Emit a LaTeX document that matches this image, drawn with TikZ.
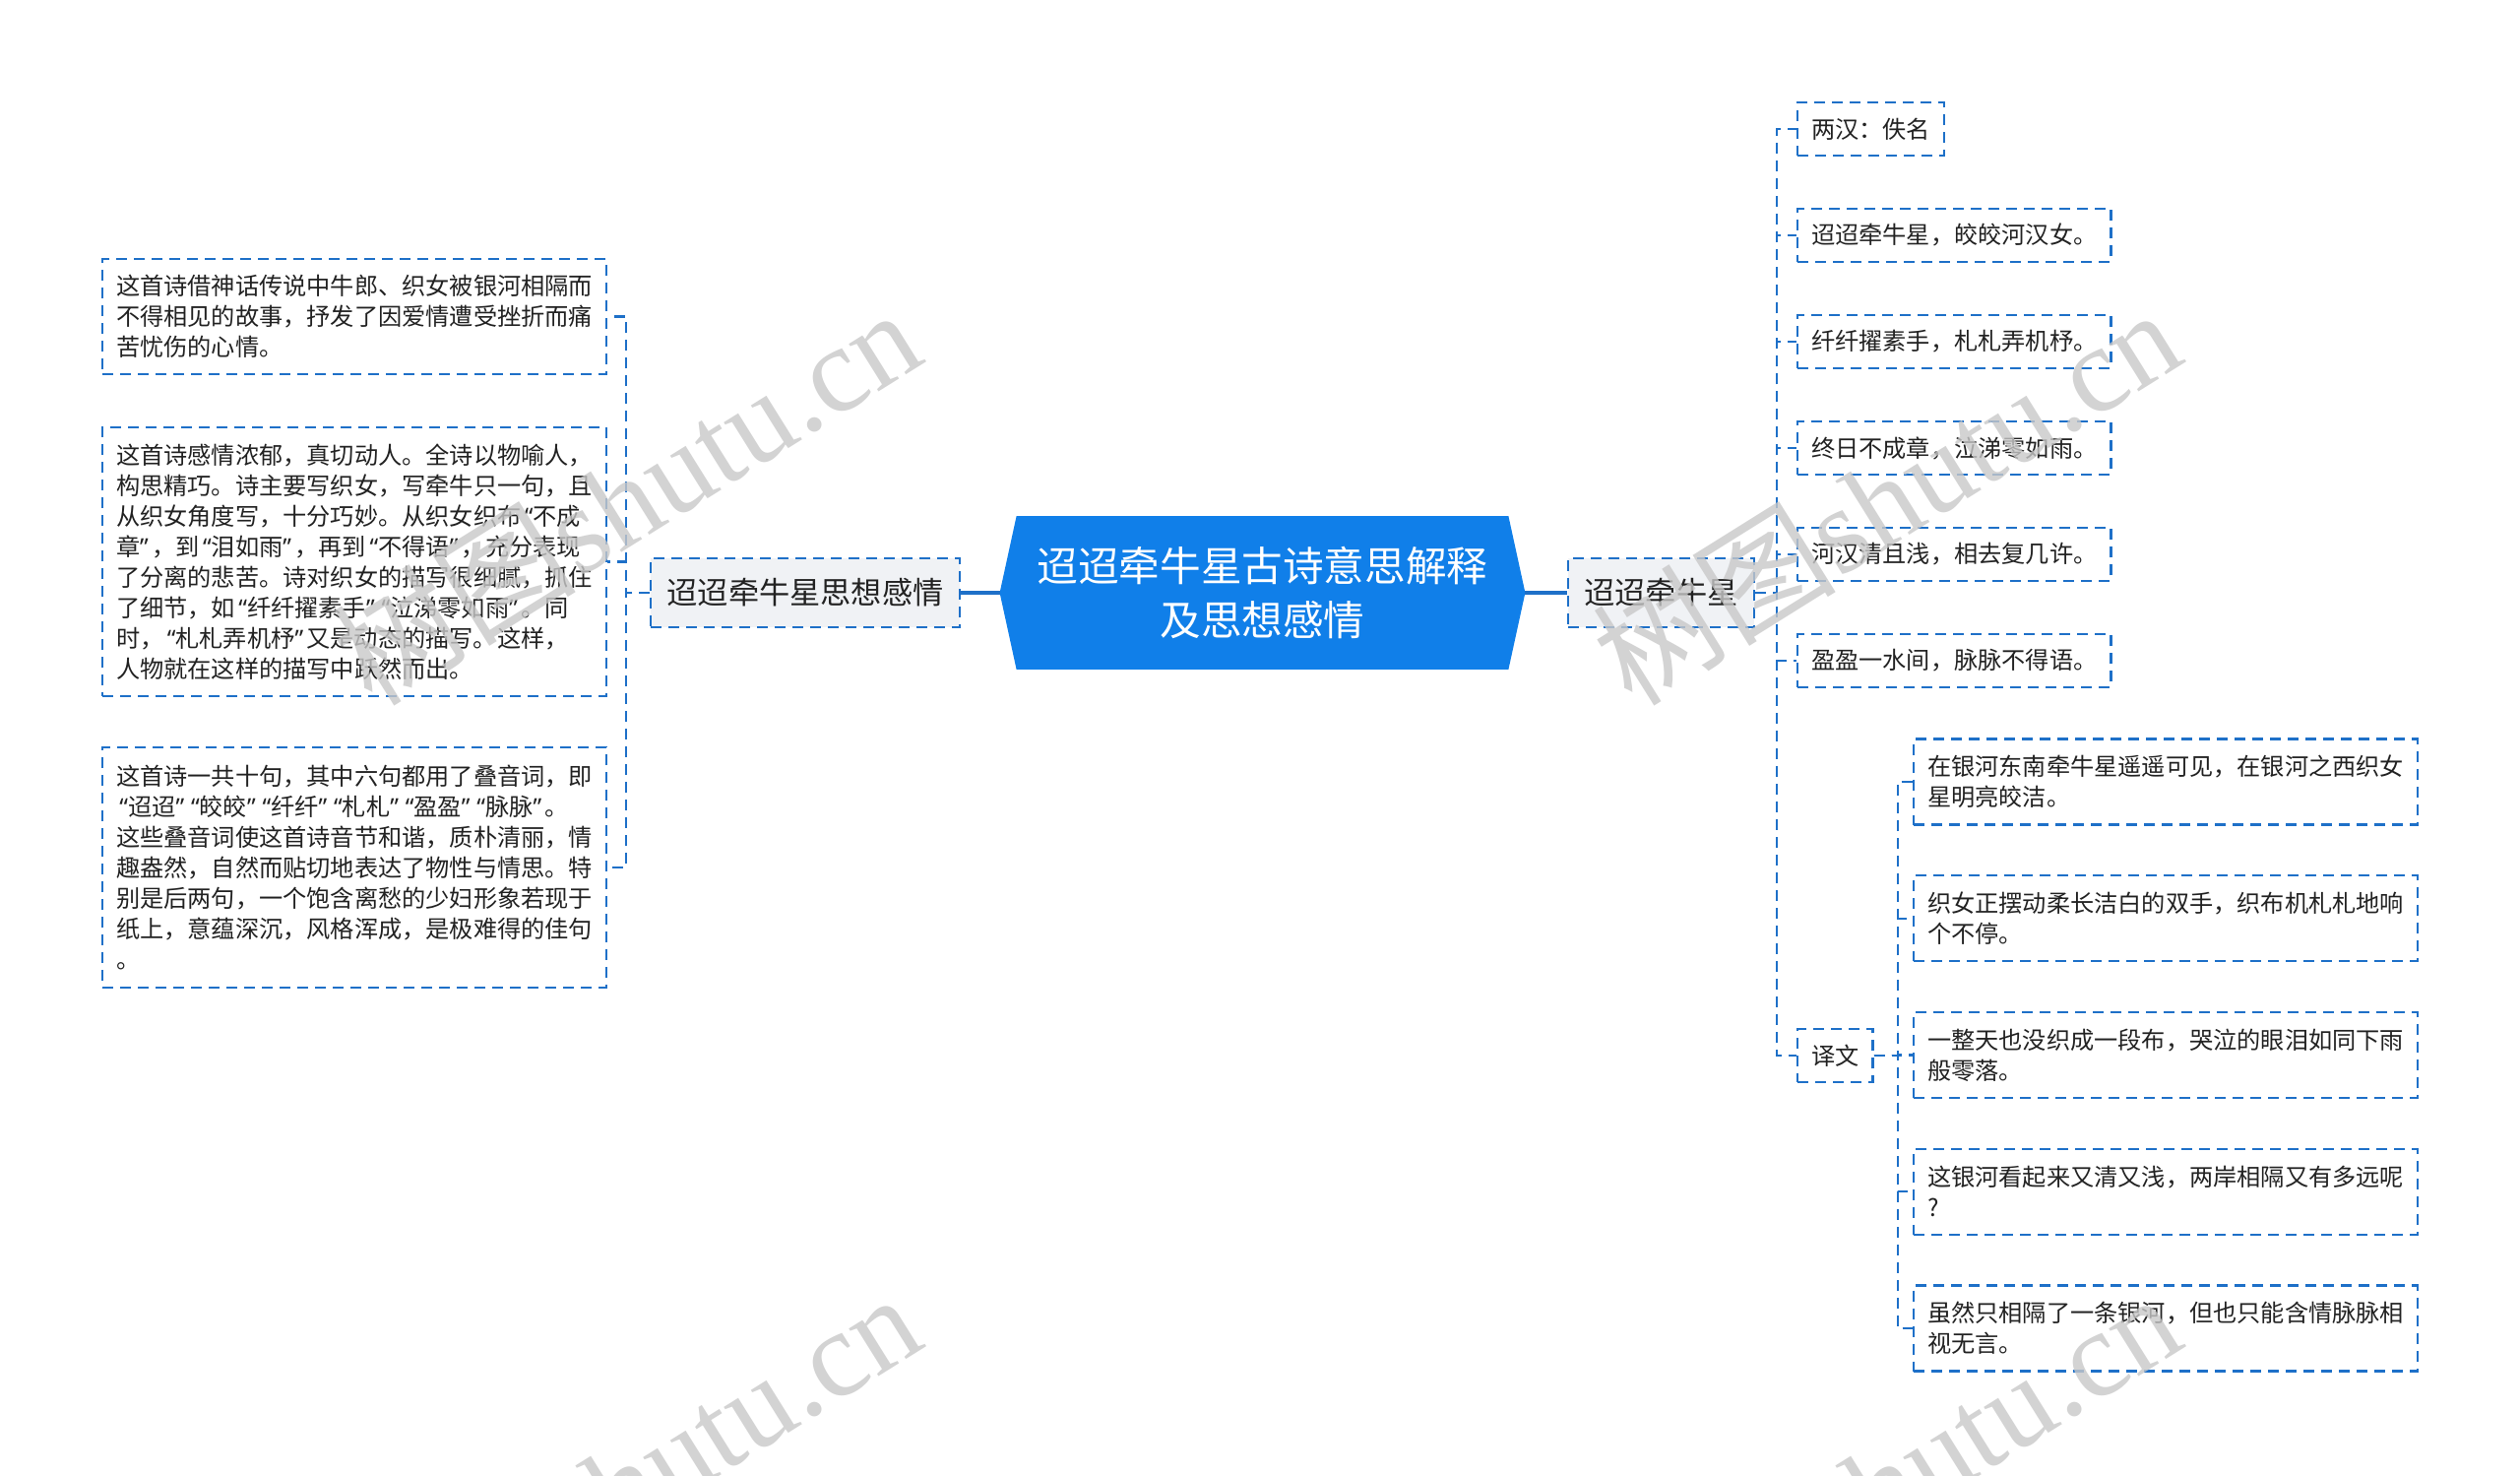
\documentclass[tikz,border=0pt]{standalone}
\usepackage{fontspec}
\setmainfont{Noto Sans CJK SC}
\newfontfamily\wmlatin{Liberation Serif}
\newfontfamily\qfont{Noto Sans}
\newcommand{\myoq}{\makebox[0.5em][r]{\qfont “}}
\newcommand{\mycq}{\makebox[0.5em][l]{\qfont ”}}
\usetikzlibrary{calc}
\definecolor{rootblue}{RGB}{16,127,233}
\definecolor{linkblue}{RGB}{30,112,200}
\definecolor{lvlfill}{RGB}{240,242,245}
\definecolor{txt}{RGB}{34,34,34}
\definecolor{wmgray}{RGB}{200,200,200}
\tikzset{
  dashbox/.style={draw=linkblue, line width=1.1pt, dash pattern=on 5.5pt off 3.5pt, fill=white, text=txt, inner xsep=7pt, inner ysep=0pt, font=\fontsize{12.1}{15.5}\selectfont},
  para/.style={dashbox, text width=242pt, align=left, anchor=center},
  leaf/.style={dashbox, anchor=west, minimum height=27pt},
  trans/.style={dashbox, text width=242pt, align=left, anchor=west, minimum height=43.5pt},
  topic/.style={draw=linkblue, line width=1.1pt, dash pattern=on 5.5pt off 3.5pt, fill=lvlfill, text=txt, font=\fontsize{15.6}{18}\selectfont, minimum height=35pt, inner xsep=8.25pt, inner ysep=0pt},
  conn/.style={draw=linkblue, line width=1.1pt, dash pattern=on 5.5pt off 3.5pt},
  rootlink/.style={draw=linkblue, line width=1.6pt},
  rootbox/.style={minimum width=266.5pt, minimum height=77.5pt, inner sep=0pt},
  roottext/.style={text=white, align=center, font=\fontsize{20.8}{27.5}\selectfont, inner sep=0pt},
  wm/.style={text=wmgray, opacity=0.8, rotate=32, inner sep=0pt, font=\fontsize{62}{62}\selectfont}
}
\begin{document}
\begin{tikzpicture}[x=0.5pt,y=-0.5pt]
\fill[white] (0,0) rectangle (2560,1499);
\useasboundingbox (0,0) rectangle (2560,1499);

% root
\path node[rootbox] (root) at (1282.5,602) {};
\fill[rootblue] (root.west) -- ($(root.north west)+(17,0)$) -- ($(root.north east)+(-17,0)$) -- (root.east) -- ($(root.south east)+(-17,0)$) -- ($(root.south west)+(17,0)$) -- cycle;
\node[roottext] (roottext) at (root.center) {迢迢牵牛星古诗意思解释\\及思想感情};

% level 1
\node[topic] (L) at (818,602) {迢迢牵牛星思想感情};
\node[topic] (R) at (1687.5,602) {迢迢牵牛星};

% left children
\node[para, minimum height=58.5pt] (A) at (360,321.5) {这首诗借神话传说中牛郎、织女被银河相隔而\\不得相见的故事，抒发了因爱情遭受挫折而痛\\苦忧伤的心情。};
\node[para, minimum height=136.5pt] (B) at (360,570.5) {这首诗感情浓郁，真切动人。全诗以物喻人，\\构思精巧。诗主要写织女，写牵牛只一句，且\\从织女角度写，十分巧妙。从织女织布\myoq 不成\\章\mycq ，到\myoq 泪如雨\mycq ，再到\myoq 不得语\mycq ，充分表现\\了分离的悲苦。诗对织女的描写很细腻，抓住\\了细节，如\myoq 纤纤擢素手\mycq\myoq 泣涕零如雨\mycq 。同\\时，\myoq 札札弄机杼\mycq 又是动态的描写。这样，\\人物就在这样的描写中跃然而出。};
\node[para, minimum height=122pt] (C) at (360,881) {这首诗一共十句，其中六句都用了叠音词，即\\\myoq 迢迢\mycq\myoq 皎皎\mycq\myoq 纤纤\mycq\myoq 札札\mycq\myoq 盈盈\mycq\myoq 脉脉\mycq 。\\这些叠音词使这首诗音节和谐，质朴清丽，情\\趣盎然，自然而贴切地表达了物性与情思。特\\别是后两句，一个饱含离愁的少妇形象若现于\\纸上，意蕴深沉，风格浑成，是极难得的佳句\\。};

% right children
\node[leaf] (R1) at (1825,131) {两汉：佚名};
\node[leaf] (R2) at (1825,239) {迢迢牵牛星，皎皎河汉女。};
\node[leaf] (R3) at (1825,347) {纤纤擢素手，札札弄机杼。};
\node[leaf] (R4) at (1825,455) {终日不成章，泣涕零如雨。};
\node[leaf] (R5) at (1825,563) {河汉清且浅，相去复几许。};
\node[leaf] (R6) at (1825,671) {盈盈一水间，脉脉不得语。};
\node[leaf] (R7) at (1825,1072) {译文};

% translations
\node[trans] (T1) at (1943,794) {在银河东南牵牛星遥遥可见，在银河之西织女\\星明亮皎洁。};
\node[trans] (T2) at (1943,932.75) {织女正摆动柔长洁白的双手，织布机札札地响\\个不停。};
\node[trans] (T3) at (1943,1071.5) {一整天也没织成一段布，哭泣的眼泪如同下雨\\般零落。};
\node[trans] (T4) at (1943,1210.25) {这银河看起来又清又浅，两岸相隔又有多远呢\\?};
\node[trans] (T5) at (1943,1349) {虽然只相隔了一条银河，但也只能含情脉脉相\\视无言。};

% connectors
\draw[rootlink] (root.west) -- (L.east);
\draw[rootlink] (root.east) -- (R.west);
\foreach \n in {A,B,C}{\draw[conn] (L.west) -- ++(-24,0) |- (\n.east);}
\foreach \n in {R1,R2,R3,R4,R5,R6,R7}{\draw[conn] (R.east) -- ++(22,0) |- (\n.west);}
\foreach \n in {T1,T2,T3,T4,T5}{\draw[conn] (R7.east) -- ++(24,0) |- (\n.west);}

% watermarks
\foreach \px/\py/\k in {817/445/a,2097/445/b,817/1445/c,2097/1445/d}{
  \node[wm, anchor=base east] (wm\k1) at (\px,\py) {树图{\wmlatin shutu}};
  \node[wm, anchor=base west] (wm\k2) at (\px,\py) {{\wmlatin .cn}};
}
\end{tikzpicture}
\end{document}
